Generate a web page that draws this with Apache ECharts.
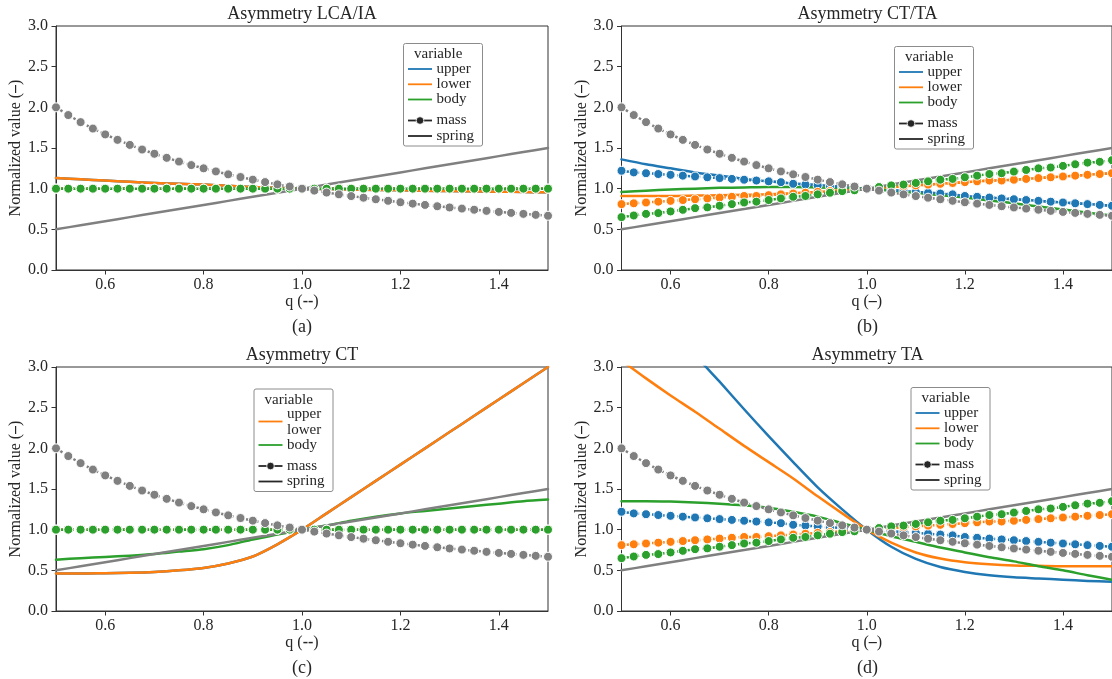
<!DOCTYPE html>
<html>
<head>
<meta charset="utf-8">
<script src="https://cdn.jsdelivr.net/npm/echarts@6/dist/echarts.min.js"></script>
<style>
  html, body { margin: 0; padding: 0; background: #ffffff; }
  #chart { width: 1112px; height: 679px; }
</style>
</head>
<body>
<div id="chart"></div>
<script>
// ---- sample positions -------------------------------------------------
const qMass = [0.5, 0.525, 0.55, 0.575, 0.6, 0.625, 0.65, 0.675, 0.7, 0.725,
  0.75, 0.775, 0.8, 0.825, 0.85, 0.875, 0.9, 0.925, 0.95, 0.975, 1.0,
  1.025, 1.05, 1.075, 1.1, 1.125, 1.15, 1.175, 1.2, 1.225, 1.25, 1.275,
  1.3, 1.325, 1.35, 1.375, 1.4, 1.425, 1.45, 1.475, 1.5];
const qSpring = [0.5, 0.55, 0.6, 0.65, 0.7, 0.75, 0.8, 0.85, 0.9, 0.95, 1.0,
  1.05, 1.1, 1.15, 1.2, 1.25, 1.3, 1.35, 1.4, 1.45, 1.5];

// ---- tick labels --------------------------------------------------------
const xTicks = [0.6, 0.8, 1.0, 1.2, 1.4];
const yTicks = [0, 0.5, 1.0, 1.5, 2.0, 2.5, 3.0];

// ---- reference curves (grey) -------------------------------------------
const refMass = [2.000, 1.905, 1.818, 1.739, 1.667, 1.600, 1.538, 1.481, 1.429,
  1.379, 1.333, 1.290, 1.250, 1.212, 1.176, 1.143, 1.111, 1.081, 1.053, 1.026,
  1.000, 0.976, 0.952, 0.930, 0.909, 0.889, 0.870, 0.851, 0.833, 0.816, 0.800,
  0.784, 0.769, 0.755, 0.741, 0.727, 0.714, 0.702, 0.690, 0.678, 0.667];
const refSpring = [0.5, 0.55, 0.6, 0.65, 0.7, 0.75, 0.8, 0.85, 0.9, 0.95, 1.0,
  1.05, 1.1, 1.15, 1.2, 1.25, 1.3, 1.35, 1.4, 1.45, 1.5];

// ---- mass curves ---------------------------------------------------------
const flatMass = [1, 1, 1, 1, 1, 1, 1, 1, 1, 1, 1, 1, 1, 1, 1, 1, 1, 1, 1, 1, 1,
  1, 1, 1, 1, 1, 1, 1, 1, 1, 1, 1, 1, 1, 1, 1, 1, 1, 1, 1, 1];
const upperMassT = [1.22, 1.20, 1.19, 1.18, 1.17, 1.16, 1.15, 1.14, 1.13, 1.12,
  1.11, 1.10, 1.09, 1.08, 1.06, 1.05, 1.04, 1.03, 1.02, 1.01, 1.00, 0.99, 0.98,
  0.97, 0.96, 0.95, 0.94, 0.93, 0.91, 0.90, 0.89, 0.88, 0.87, 0.86, 0.85, 0.84,
  0.83, 0.82, 0.81, 0.80, 0.79];
const lowerMassT = [0.81, 0.82, 0.83, 0.84, 0.85, 0.86, 0.87, 0.88, 0.89, 0.90,
  0.91, 0.91, 0.92, 0.93, 0.94, 0.95, 0.96, 0.97, 0.98, 0.99, 1.00, 1.01, 1.02,
  1.03, 1.04, 1.05, 1.06, 1.07, 1.08, 1.09, 1.10, 1.10, 1.11, 1.12, 1.13, 1.14,
  1.15, 1.16, 1.17, 1.18, 1.19];
const bodyMassT = [0.65, 0.67, 0.69, 0.70, 0.72, 0.74, 0.76, 0.77, 0.79, 0.81,
  0.83, 0.84, 0.86, 0.88, 0.90, 0.91, 0.93, 0.95, 0.97, 0.98, 1.00, 1.02, 1.04,
  1.05, 1.07, 1.09, 1.11, 1.12, 1.14, 1.16, 1.18, 1.19, 1.21, 1.23, 1.25, 1.26,
  1.28, 1.30, 1.32, 1.33, 1.35];

// ---- spring curves -------------------------------------------------------
// (a) LCA/IA
const upperSpringA = [1.13, 1.115, 1.10, 1.085, 1.07, 1.06, 1.05, 1.035, 1.02,
  1.01, 1.00, 0.995, 0.99, 0.985, 0.98, 0.975, 0.97, 0.967, 0.963, 0.959, 0.955];
const lowerSpringA = [1.13, 1.115, 1.10, 1.085, 1.07, 1.06, 1.05, 1.035, 1.02,
  1.01, 1.00, 0.995, 0.99, 0.985, 0.98, 0.975, 0.97, 0.967, 0.963, 0.959, 0.955];
const bodySpringA = [1, 1, 1, 1, 1, 1, 1, 1, 1, 1, 1, 1, 1, 1, 1, 1, 1, 1, 1, 1, 1];
// (b) CT/TA
const upperSpringB = [1.36, 1.30, 1.25, 1.20, 1.16, 1.12, 1.09, 1.065, 1.045,
  1.02, 1.00, 0.98, 0.96, 0.94, 0.91, 0.89, 0.87, 0.85, 0.83, 0.81, 0.79];
const lowerSpringB = [0.91, 0.91, 0.91, 0.915, 0.92, 0.925, 0.93, 0.945, 0.96,
  0.98, 1.00, 1.02, 1.04, 1.06, 1.08, 1.10, 1.11, 1.13, 1.15, 1.17, 1.19];
const bodySpringB = [0.96, 0.975, 0.99, 1.00, 1.01, 1.015, 1.02, 1.02, 1.015,
  1.01, 1.00, 0.975, 0.95, 0.92, 0.89, 0.855, 0.82, 0.78, 0.745, 0.705, 0.67];
// (c) CT
const upperSpringC = [0.46, 0.46, 0.465, 0.47, 0.48, 0.50, 0.53, 0.585, 0.67,
  0.82, 1.00, 1.20, 1.40, 1.60, 1.80, 2.00, 2.20, 2.40, 2.60, 2.80, 3.00];
const lowerSpringC = [0.46, 0.46, 0.465, 0.47, 0.48, 0.50, 0.53, 0.585, 0.67,
  0.82, 1.00, 1.20, 1.40, 1.60, 1.80, 2.00, 2.20, 2.40, 2.60, 2.80, 3.00];
const bodySpringC = [0.63, 0.65, 0.665, 0.68, 0.70, 0.73, 0.76, 0.81, 0.88,
  0.94, 1.00, 1.05, 1.11, 1.16, 1.20, 1.23, 1.26, 1.29, 1.32, 1.35, 1.37];
// (d) TA
const upperSpringD = [4.30, 3.95, 3.55, 3.15, 2.82, 2.48, 2.15, 1.83, 1.52,
  1.25, 1.00, 0.79, 0.64, 0.54, 0.48, 0.44, 0.415, 0.40, 0.385, 0.37, 0.36];
const lowerSpringD = [3.08, 2.86, 2.65, 2.45, 2.24, 2.03, 1.83, 1.63, 1.41,
  1.20, 1.00, 0.84, 0.72, 0.645, 0.60, 0.575, 0.56, 0.555, 0.55, 0.55, 0.55];
const bodySpringD = [1.35, 1.35, 1.345, 1.335, 1.32, 1.30, 1.27, 1.22, 1.16,
  1.08, 1.00, 0.92, 0.85, 0.78, 0.72, 0.66, 0.61, 0.55, 0.50, 0.44, 0.385];

// ---- text ----------------------------------------------------------------
const panelTitles = ['Asymmetry LCA/IA', 'Asymmetry CT/TA', 'Asymmetry CT', 'Asymmetry TA'];
const panelTags = ['(a)', '(b)', '(c)', '(d)'];
const xUnits = ['--', '\u2013', '--', '\u2013'];
const legendLabels = ['upper', 'lower', 'body'];
const styleLabels = ['mass', 'spring'];

// ---- styling -------------------------------------------------------------
const FONT = '"Liberation Serif", "Times New Roman", serif';
const INK = '#262626';
const COLORS = { upper: '#1f77b4', lower: '#ff7f0e', body: '#2ca02c', ref: '#808080' };

const layout = [
  { left: 56, top: 26, legend: [403.5, 43.5], merged: false },
  { left: 621.5, top: 26, legend: [894.5, 46.5], merged: false },
  { left: 56, top: 367, legend: [254, 389], merged: true },
  { left: 621.5, top: 367, legend: [911, 387.5], merged: false }
];
const GW = 492, GH = 244;

const panelData = [
  { springs: [upperSpringA, lowerSpringA, bodySpringA], masses: [flatMass, flatMass, flatMass] },
  { springs: [upperSpringB, lowerSpringB, bodySpringB], masses: [upperMassT, lowerMassT, bodyMassT] },
  { springs: [upperSpringC, lowerSpringC, bodySpringC], masses: [flatMass, flatMass, flatMass] },
  { springs: [upperSpringD, lowerSpringD, bodySpringD], masses: [upperMassT, lowerMassT, bodyMassT] }
];

function pairs(xs, ys) { return xs.map((x, i) => [x, ys[i]]); }

function springSeries(i, ys, color) {
  return {
    type: 'line', xAxisIndex: i, yAxisIndex: i, data: pairs(qSpring, ys),
    showSymbol: false, silent: true, clip: true, smooth: 0.25,
    lineStyle: { color: color, width: 2.5, cap: 'round', join: 'round' }
  };
}
function massSeries(i, ys, color) {
  return {
    type: 'line', xAxisIndex: i, yAxisIndex: i, data: pairs(qMass, ys),
    showSymbol: true, symbol: 'circle', symbolSize: 9, silent: true, clip: true,
    itemStyle: { color: color, borderColor: '#ffffff', borderWidth: 1 },
    lineStyle: { color: color, width: 2.5, type: [2.5, 2.6] }
  };
}

const grids = [], xAxes = [], yAxes = [], series = [], graphics = [];
const keys = ['upper', 'lower', 'body'];

layout.forEach((L, i) => {
  grids.push({ left: L.left, top: L.top, width: GW, height: GH, show: true,
    borderColor: '#333333', borderWidth: 1, backgroundColor: 'transparent' });
  xAxes.push({
    gridIndex: i, type: 'value', min: 0.5, max: 1.5,
    name: 'q ({d|' + xUnits[i] + '})', nameLocation: 'middle', nameGap: 22,
    nameTextStyle: { fontFamily: FONT, fontSize: 16, color: INK,
      rich: { d: { fontFamily: FONT, fontSize: 16, fontWeight: 'bold', color: INK } } },
    axisLine: { show: true, onZero: false, lineStyle: { color: '#333333', width: 1 } },
    axisTick: { show: true, customValues: xTicks, length: 4.5, lineStyle: { color: '#333333' } },
    axisLabel: { show: true, customValues: xTicks, margin: 7, fontFamily: FONT, fontSize: 16,
      color: INK, formatter: v => Number(v).toFixed(1) },
    splitLine: { show: false }
  });
  yAxes.push({
    gridIndex: i, type: 'value', min: 0, max: 3, interval: 0.5,
    name: 'Normalized value ({d|\u2013})', nameLocation: 'middle', nameRotate: 90, nameGap: 32,
    nameTextStyle: { fontFamily: FONT, fontSize: 16, color: INK,
      rich: { d: { fontFamily: FONT, fontSize: 16, fontWeight: 'bold', color: INK } } },
    axisLine: { show: true, onZero: false, lineStyle: { color: '#333333', width: 1 } },
    axisTick: { show: true, length: 4.5, lineStyle: { color: '#333333' } },
    axisLabel: { show: true, margin: 8, fontFamily: FONT, fontSize: 16, color: INK,
      customValues: yTicks, formatter: v => Number(v).toFixed(1) },
    splitLine: { show: false }
  });

  const D = panelData[i];
  keys.forEach((k, j) => series.push(springSeries(i, D.springs[j], COLORS[k])));
  keys.forEach((k, j) => series.push(massSeries(i, D.masses[j], COLORS[k])));
  series.push(springSeries(i, refSpring, COLORS.ref));
  series.push(massSeries(i, refMass, COLORS.ref));

  const cx = L.left + GW / 2;
  graphics.push({ type: 'text', silent: true, style: { text: panelTitles[i], x: cx, y: L.top - 12,
    align: 'center', verticalAlign: 'middle', fontFamily: FONT, fontSize: 18, fill: INK } });
  graphics.push({ type: 'text', silent: true, style: { text: panelTags[i], x: cx, y: L.top + GH + 57,
    align: 'center', verticalAlign: 'middle', fontFamily: FONT, fontSize: 18, fill: INK } });

  // legend box
  const g = { type: 'group', x: L.legend[0], y: L.legend[1], silent: true, z: 100, children: [] };
  g.children.push({ type: 'rect', shape: { x: 0, y: 0, width: 79, height: 102.5, r: 2 },
    style: { fill: 'rgba(255,255,255,0.85)', stroke: '#8c8c8c', lineWidth: 1 } });
  const txt = (s, x, y) => ({ type: 'text', style: { text: s, x: x, y: y, align: 'left',
    verticalAlign: 'middle', fontFamily: FONT, fontSize: 15, fill: INK } });
  const seg = (y, color) => ({ type: 'line', shape: { x1: 4.5, y1: y, x2: 28.5, y2: y },
    style: { stroke: color, lineWidth: 1.8 } });
  g.children.push(txt('variable', 10.5, 11));
  const rowY = [25.5, 40.8, 56];
  legendLabels.forEach((s, j) => g.children.push(txt(s, 33, rowY[j])));
  if (L.merged) {
    g.children.push(seg(32.5, COLORS.lower));
    g.children.push(seg(rowY[2], COLORS.body));
  } else {
    keys.forEach((k, j) => g.children.push(seg(rowY[j], COLORS[k])));
  }
  g.children.push(seg(77, INK));
  g.children.push({ type: 'circle', shape: { cx: 16.5, cy: 77, r: 3.8 },
    style: { fill: INK, stroke: '#ffffff', lineWidth: 0.8 } });
  g.children.push(txt(styleLabels[0], 33, 77));
  g.children.push(seg(92.5, INK));
  g.children.push(txt(styleLabels[1], 33, 92.5));
  graphics.push(g);
});

const chart = echarts.init(document.getElementById('chart'), null, { renderer: 'canvas' });
chart.setOption({
  animation: false,
  backgroundColor: '#ffffff',
  grid: grids,
  xAxis: xAxes,
  yAxis: yAxes,
  series: series,
  graphic: { elements: graphics }
});
</script>
</body>
</html>
